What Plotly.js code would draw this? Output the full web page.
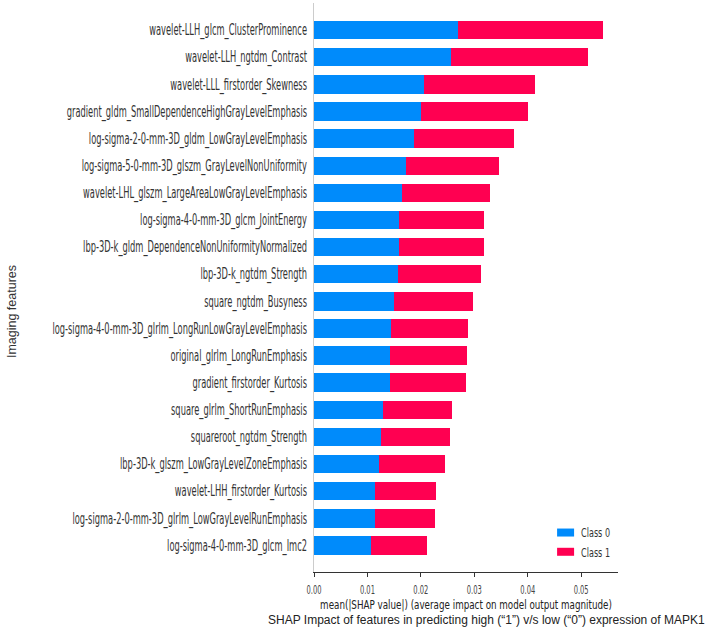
<!DOCTYPE html>
<html>
<head>
<meta charset="utf-8">
<script src="https://cdn.plot.ly/plotly-3.0.1.min.js"></script>
<style>html,body{margin:0;padding:0;background:#fff;}#chart{width:709px;height:631px;}</style>
</head>
<body>
<div id="chart"></div>
<script>
var features = [
  "wavelet-LLH_glcm_ClusterProminence",
  "wavelet-LLH_ngtdm_Contrast",
  "wavelet-LLL_firstorder_Skewness",
  "gradient_gldm_SmallDependenceHighGrayLevelEmphasis",
  "log-sigma-2-0-mm-3D_gldm_LowGrayLevelEmphasis",
  "log-sigma-5-0-mm-3D_glszm_GrayLevelNonUniformity",
  "wavelet-LHL_glszm_LargeAreaLowGrayLevelEmphasis",
  "log-sigma-4-0-mm-3D_glcm_JointEnergy",
  "lbp-3D-k_gldm_DependenceNonUniformityNormalized",
  "lbp-3D-k_ngtdm_Strength",
  "square_ngtdm_Busyness",
  "log-sigma-4-0-mm-3D_glrlm_LongRunLowGrayLevelEmphasis",
  "original_glrlm_LongRunEmphasis",
  "gradient_firstorder_Kurtosis",
  "square_glrlm_ShortRunEmphasis",
  "squareroot_ngtdm_Strength",
  "lbp-3D-k_glszm_LowGrayLevelZoneEmphasis",
  "wavelet-LHH_firstorder_Kurtosis",
  "log-sigma-2-0-mm-3D_glrlm_LowGrayLevelRunEmphasis",
  "log-sigma-4-0-mm-3D_glcm_Imc2"
];
var class0 = [0.0270, 0.0257, 0.0206, 0.0200, 0.0187, 0.0173, 0.0164, 0.0160, 0.0160, 0.0157,
              0.0149, 0.0144, 0.0143, 0.0142, 0.0129, 0.0126, 0.0122, 0.0114, 0.0114, 0.0107];
var class1 = [0.0271, 0.0256, 0.0208, 0.0200, 0.0187, 0.0174, 0.0165, 0.0159, 0.0158, 0.0156,
              0.0149, 0.0145, 0.0144, 0.0142, 0.0130, 0.0128, 0.0123, 0.0115, 0.0113, 0.0105];
var seriesNames = ["Class 0", "Class 1"];
var tickVals = [0, 0.01, 0.02, 0.03, 0.04, 0.05];
var tickText = ["0.00", "0.01", "0.02", "0.03", "0.04", "0.05"];

var baseFont = "DejaVu Sans, sans-serif";

var traces = [
  {type: "bar", orientation: "h", name: seriesNames[0], y: features, x: class0,
   marker: {color: "#008bfb", line: {width: 0}}, hoverinfo: "x+y"},
  {type: "bar", orientation: "h", name: seriesNames[1], y: features, x: class1,
   marker: {color: "#ff0051", line: {width: 0}}, hoverinfo: "x+y"}
];

var layout = {
  width: 709, height: 631,
  margin: {l: 314, r: 91, t: 3, b: 59, pad: 0},
  paper_bgcolor: "#fff", plot_bgcolor: "#fff",
  barmode: "stack", bargap: 0.32,
  showlegend: true,
  legend: {x: 0.747, y: 0.052, xanchor: "left", yanchor: "middle", traceorder: "normal",
           font: {family: baseFont, size: 12.5, color: "#333"}, borderwidth: 0,
           bgcolor: "rgba(0,0,0,0)", tracegroupgap: 0, itemwidth: 30},
  xaxis: {
    range: [0, 0.0569], tickvals: tickVals, ticktext: tickText,
    showgrid: false, zeroline: false, showline: true, linecolor: "#333", linewidth: 1,
    ticks: "outside", ticklen: 4, tickcolor: "#333", ticklabelstandoff: 3,
    tickfont: {family: baseFont, size: 11.5, color: "#444"},
    title: {text: "mean(|SHAP value|) (average impact on model output magnitude)",
            font: {family: baseFont, size: 13, color: "#222"}, standoff: 0}
  },
  yaxis: {
    type: "category", categoryarray: features, range: [19.98, -1],
    showgrid: false, zeroline: false, showline: true, linecolor: "#ccc", linewidth: 1,
    ticks: "", ticklabelstandoff: 3,
    tickfont: {family: baseFont, size: 15, color: "#333"}
  },
  annotations: [
    {text: "Imaging features", xref: "paper", yref: "paper", x: -0.993, y: 0.457,
     textangle: -90, showarrow: false, xanchor: "center", yanchor: "middle",
     font: {family: "Liberation Sans, sans-serif", size: 12.5, color: "#333"}},
    {text: "SHAP Impact of features in predicting high (\u201c1\u201d) v/s low (\u201c0\u201d) expression of MAPK1",
     xref: "paper", yref: "paper", x: 1.293, y: -0.085, xanchor: "right", yanchor: "middle",
     showarrow: false, font: {family: "Liberation Sans, sans-serif", size: 12, color: "#222"}}
  ]
};

// horizontally condense a set of SVG text nodes around their anchor x
function squash(nodes, s) {
  nodes.forEach(function (t) {
    var x = parseFloat(t.getAttribute("x")) || 0;
    var tr = t.getAttribute("transform") || "";
    t.setAttribute("transform", tr + " translate(" + x + ",0) scale(" + s + ",1) translate(" + (-x) + ",0)");
  });
}
function maxWidth(nodes) {
  var m = 0;
  nodes.forEach(function (t) { m = Math.max(m, t.getBBox().width); });
  return m;
}

Plotly.newPlot("chart", traces, layout, {displayModeBar: false, staticPlot: true}).then(function (gd) {
  var yt = Array.prototype.slice.call(gd.querySelectorAll(".yaxislayer-above .ytick text"));
  var xt = Array.prototype.slice.call(gd.querySelectorAll(".xaxislayer-above .xtick text"));
  var xtitle = Array.prototype.slice.call(gd.querySelectorAll(".g-xtitle text"));
  var lg = Array.prototype.slice.call(gd.querySelectorAll(".legend .legendtext"));
  squash(yt, 255 / maxWidth(yt));
  squash(xt, 15 / maxWidth(xt));
  squash(xtitle, 292 / maxWidth(xtitle));
  squash(lg, 29 / maxWidth(lg));
  gd.querySelectorAll(".legend .legendpoints path").forEach(function (p) {
    p.setAttribute("d", "M13,4H-4V-4H13Z");
  });
});
</script>
</body>
</html>
